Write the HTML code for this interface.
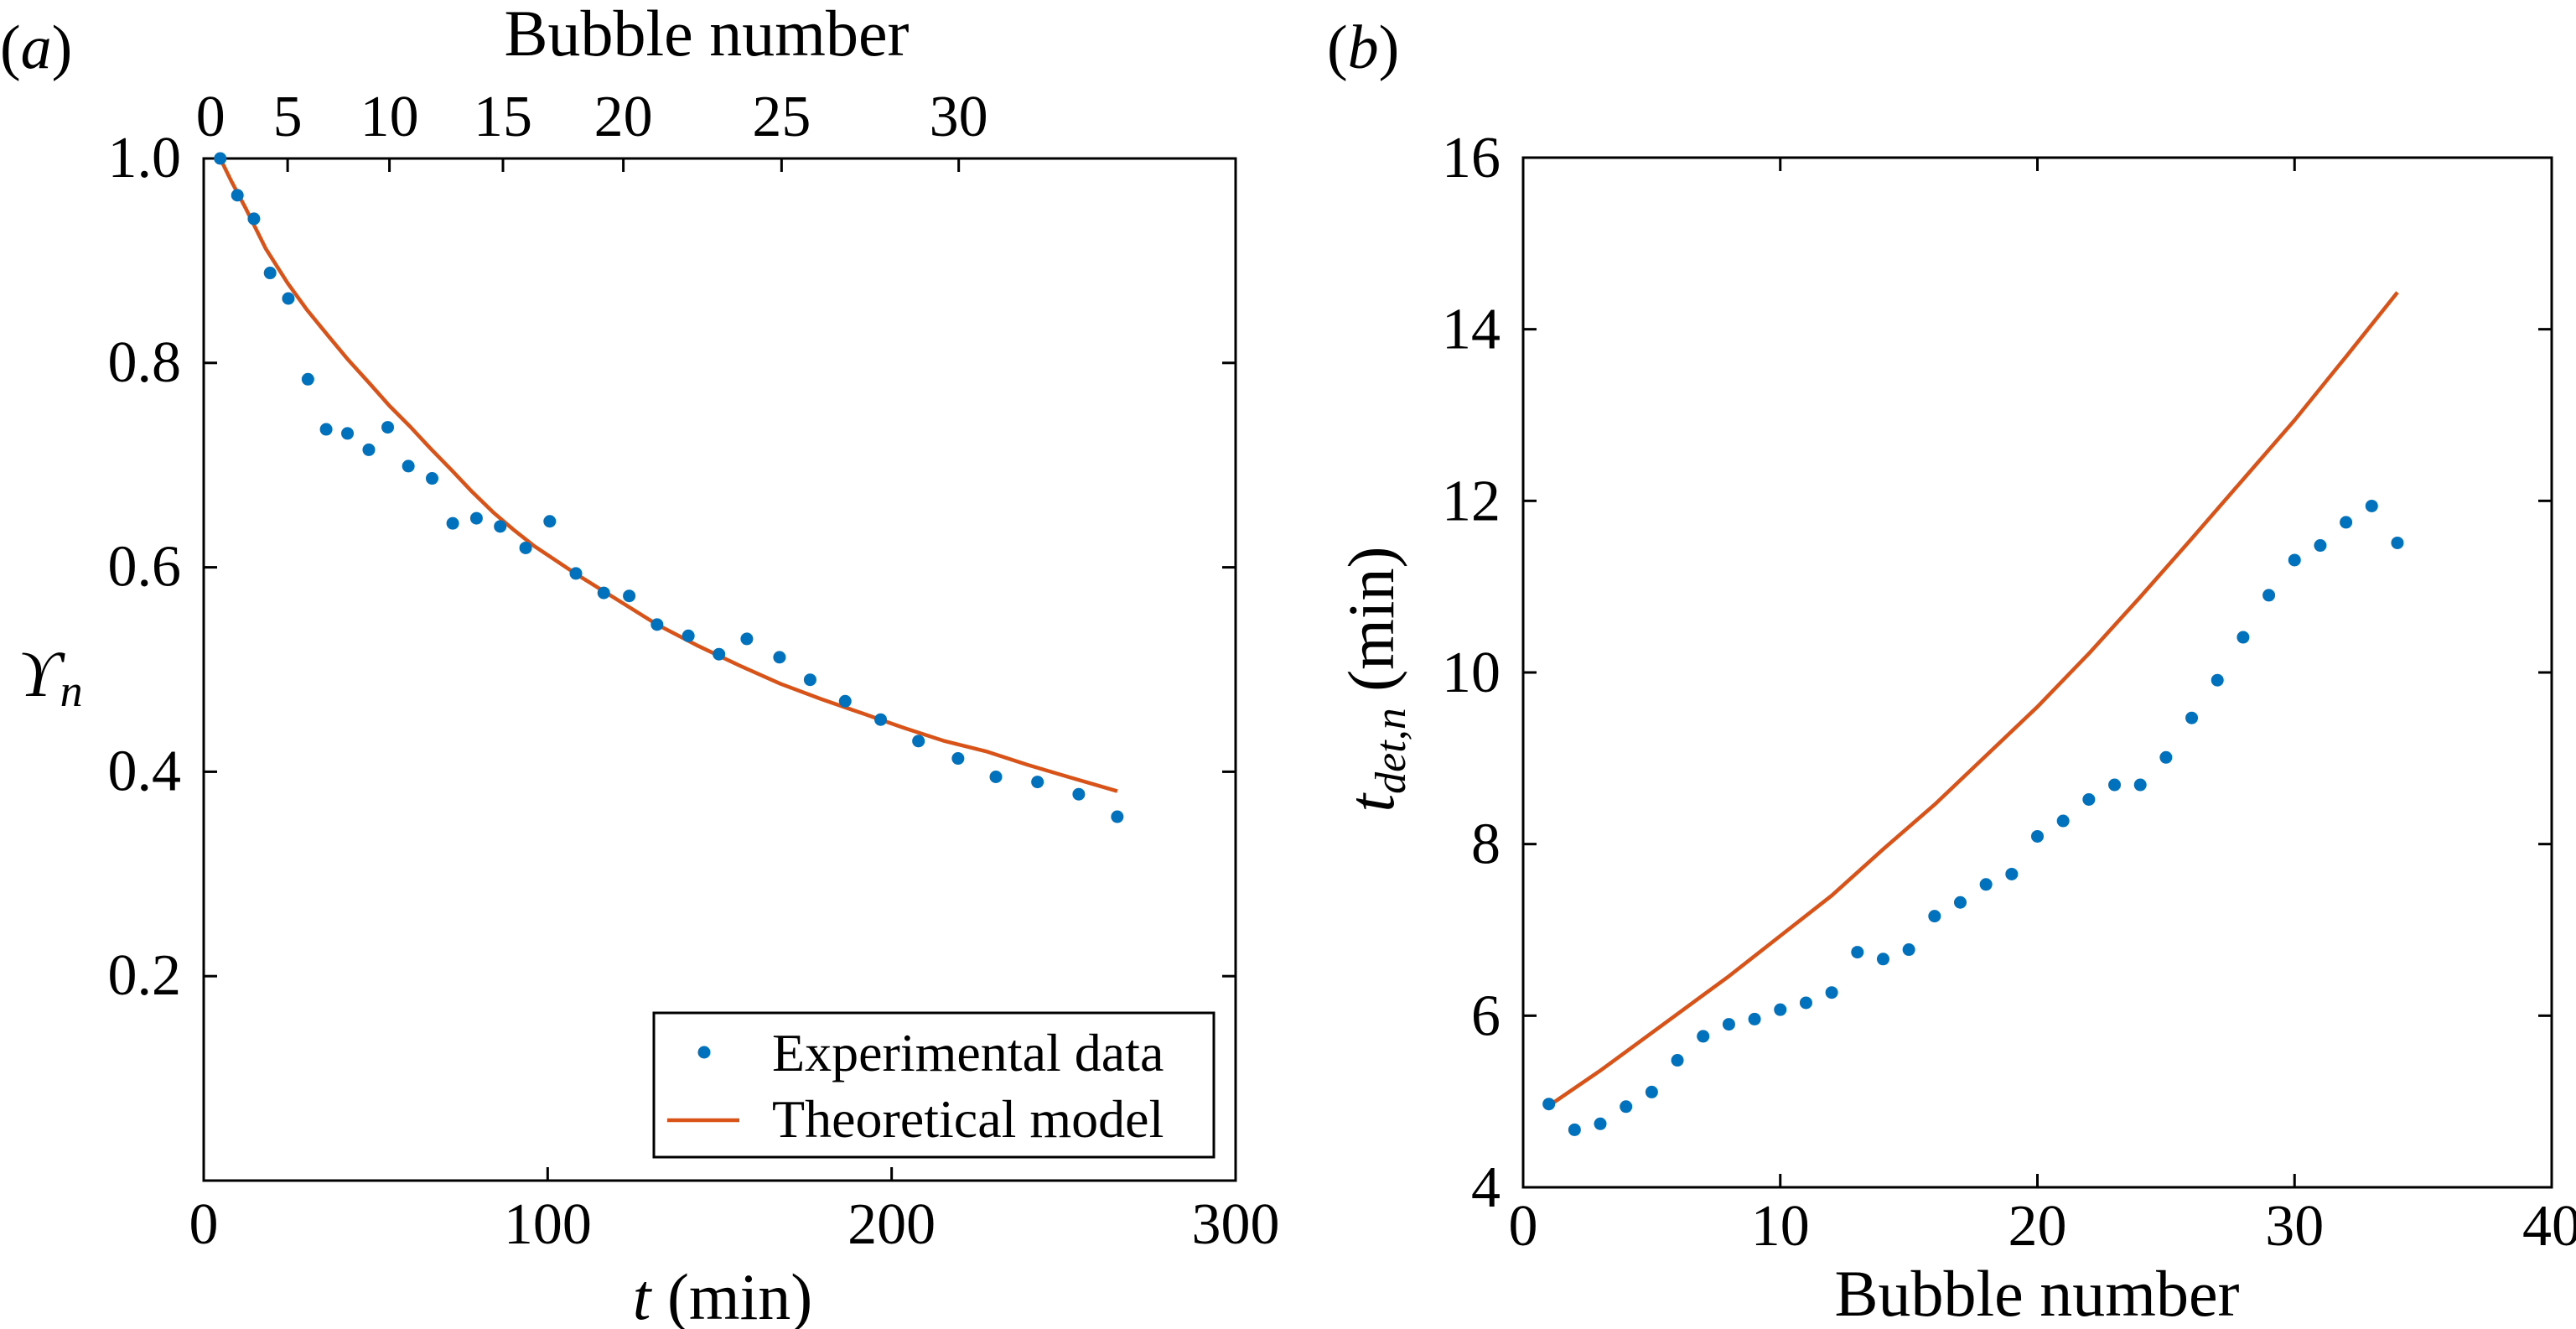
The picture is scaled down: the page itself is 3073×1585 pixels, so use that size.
<!DOCTYPE html>
<html><head><meta charset="utf-8">
<style>
html,body{margin:0;padding:0;background:#fff;}
svg{display:block;}
svg text{font-family:"Liberation Serif","DejaVu Serif","Times New Roman",serif;}
</style></head>
<body>
<svg id="fig" width="3073" height="1585" viewBox="0 0 3073 1585" xmlns="http://www.w3.org/2000/svg">
<g id="pa"></g>
<g id="pb"></g>
</svg>
<script>
// Panel (a) data
const aTimes = [4.8,9.8,14.6,19.3,24.6,30.3,35.6,41.8,48.0,53.5,59.5,66.4,72.4,79.3,86.2,93.6,100.6,108.2,116.3,123.7,131.8,140.9,149.8,157.9,167.4,176.3,186.5,196.8,207.8,219.3,230.3,242.4,254.4,265.6];
const aValues = [1.0,0.964,0.941,0.888,0.863,0.784,0.735,0.731,0.715,0.737,0.699,0.687,0.643,0.648,0.640,0.619,0.645,0.594,0.575,0.572,0.544,0.533,0.515,0.530,0.512,0.490,0.469,0.451,0.430,0.413,0.395,0.390,0.378,0.356];
const aModelT = [4.8,8,12.4,18,24.4,30,36.3,42,48.2,54,60.2,66,72.1,78,84.1,90,96,108,119.9,131.8,143.8,155.7,167.7,179.6,191.6,203.5,215.4,227.4,239.3,251.3,265.6];
const aModelY = [1.0,0.978,0.950,0.912,0.878,0.852,0.826,0.803,0.780,0.758,0.737,0.716,0.695,0.674,0.654,0.637,0.621,0.594,0.569,0.544,0.523,0.504,0.486,0.471,0.457,0.443,0.430,0.420,0.407,0.395,0.381];
const aXTicks = [0,100,200,300];
const aYTicks = [0.2,0.4,0.6,0.8,1.0];
const aYTickLabels = ["0.2","0.4","0.6","0.8","1.0"];
const aTopLabels = ["0","5","10","15","20","25","30"];
const aTopTimes = [2,24.4,54,87,122,168,219.5];
// Panel (b) data
const bBubbles = [1,2,3,4,5,6,7,8,9,10,11,12,13,14,15,16,17,18,19,20,21,22,23,24,25,26,27,28,29,30,31,32,33,34];
const bValues = [4.97,4.67,4.74,4.94,5.11,5.48,5.76,5.90,5.96,6.07,6.15,6.27,6.74,6.66,6.77,7.16,7.32,7.53,7.65,8.09,8.27,8.52,8.69,8.69,9.01,9.47,9.91,10.41,10.90,11.31,11.48,11.75,11.94,11.51];
const bModelX = [1,3,6,8,10,12,14,16,18,20,22,24,26,28,30,32,34];
const bModelY = [4.95,5.36,6.02,6.46,6.93,7.40,7.94,8.46,9.03,9.60,10.22,10.88,11.56,12.25,12.94,13.68,14.43];
const bXTicks = [0,10,20,30,40];
const bYTicks = [4,6,8,10,12,14,16];

const NS="http://www.w3.org/2000/svg";
const BLUE="#0072BD", ORANGE="#D95319";
const FF='"Liberation Serif","DejaVu Serif",serif';
function mk(parent,tag,attrs,text){const e=document.createElementNS(NS,tag);for(const k in attrs)e.setAttribute(k,attrs[k]);if(tag==='text')e.setAttribute('font-family',FF);if(text!==undefined)e.textContent=text;parent.appendChild(e);return e;}

// ---------- Panel A ----------
const pa=document.getElementById('pa');
const A={l:243,r:1474,t:189,b:1408};
const ax=v=>A.l+(v-0)/(300-0)*(A.r-A.l);
const ay=v=>A.b-(v-0)/(1-0)*(A.b-A.t);
let e;
e=mk(pa,'rect',{x:A.l,y:A.t,width:A.r-A.l,height:A.b-A.t,fill:'none',stroke:'#000','stroke-width':3});


aXTicks.forEach((v,i)=>{
  e=mk(pa,'line',{x1:ax(v),x2:ax(v),y1:A.b,y2:A.b-16,stroke:'#000','stroke-width':3});
  
  
  e=mk(pa,'text',{x:ax(v),y:1483,'font-size':70,'text-anchor':'middle'},String(v));
  
  
});
aYTicks.forEach((v,i)=>{
  e=mk(pa,'line',{x1:A.l,x2:A.l+16,y1:ay(v),y2:ay(v),stroke:'#000','stroke-width':3});
  
  
  e=mk(pa,'line',{x1:A.r,x2:A.r-16,y1:ay(v),y2:ay(v),stroke:'#000','stroke-width':3});
  
  
  e=mk(pa,'text',{x:216,y:ay(v)+22,'font-size':70,'text-anchor':'end'},aYTickLabels[i]);
  
  
});
aTopTimes.forEach((v,i)=>{
  if(i>0){
  e=mk(pa,'line',{x1:ax(v),x2:ax(v),y1:A.t,y2:A.t+16,stroke:'#000','stroke-width':3});
  
  }
  e=mk(pa,'text',{x:ax(v),y:162,'font-size':70,'text-anchor':'middle'},aTopLabels[i]);
  
  
});
e=mk(pa,'polyline',{points:aModelT.map((t,i)=>ax(t)+','+ay(aModelY[i])).join(' '),fill:'none',stroke:ORANGE,'stroke-width':4.5,'stroke-linejoin':'round'});


aTimes.forEach((t,i)=>{
  e=mk(pa,'circle',{cx:ax(t),cy:ay(aValues[i]),r:7.5,fill:BLUE});
  
  
});
// legend
e=mk(pa,'rect',{x:780,y:1208,width:668,height:172,fill:'#fff',stroke:'#000','stroke-width':3});


e=mk(pa,'circle',{cx:840,cy:1255,r:7.5,fill:BLUE});


e=mk(pa,'text',{x:921,y:1277,'font-size':64},'Experimental data');


e=mk(pa,'line',{x1:796,x2:882,y1:1336,y2:1336,stroke:ORANGE,'stroke-width':4.5});


e=mk(pa,'text',{x:921,y:1356,'font-size':64},'Theoretical model');


// labels
e=mk(pa,'text',{x:0,y:81,'font-size':74},'');
e.innerHTML='(<tspan font-style="italic">a</tspan>)';


e=mk(pa,'text',{x:843,y:66,'font-size':78,'text-anchor':'middle'},'Bubble number');


e=mk(pa,'text',{x:862,y:1573,'font-size':78,'text-anchor':'middle'},'');
e.innerHTML='<tspan font-style="italic">t</tspan> (min)';


e=mk(pa,'text',{x:22,y:830,'font-size':78,'font-style':'italic'},'');
e.innerHTML='ϒ<tspan font-size="54" dy="12">n</tspan>';



// ---------- Panel B ----------
const pb=document.getElementById('pb');
const B={l:1817,r:3044,t:188,b:1416};
const bx=v=>B.l+(v-0)/(40-0)*(B.r-B.l);
const by=v=>B.b-(v-4)/(16-4)*(B.b-B.t);
e=mk(pb,'rect',{x:B.l,y:B.t,width:B.r-B.l,height:B.b-B.t,fill:'none',stroke:'#000','stroke-width':3});


bXTicks.forEach(v=>{
  e=mk(pb,'line',{x1:bx(v),x2:bx(v),y1:B.b,y2:B.b-16,stroke:'#000','stroke-width':3});
  
  
  e=mk(pb,'line',{x1:bx(v),x2:bx(v),y1:B.t,y2:B.t+16,stroke:'#000','stroke-width':3});
  
  
  e=mk(pb,'text',{x:bx(v),y:1485,'font-size':70,'text-anchor':'middle'},String(v));
  
  
});
bYTicks.forEach(v=>{
  e=mk(pb,'line',{x1:B.l,x2:B.l+16,y1:by(v),y2:by(v),stroke:'#000','stroke-width':3});
  
  
  e=mk(pb,'line',{x1:B.r,x2:B.r-16,y1:by(v),y2:by(v),stroke:'#000','stroke-width':3});
  
  
  e=mk(pb,'text',{x:1790,y:by(v)+23,'font-size':70,'text-anchor':'end'},String(v));
  
  
});
e=mk(pb,'polyline',{points:bModelX.map((x,i)=>bx(x)+','+by(bModelY[i])).join(' '),fill:'none',stroke:ORANGE,'stroke-width':4.5,'stroke-linejoin':'round'});


bBubbles.forEach((n,i)=>{
  e=mk(pb,'circle',{cx:bx(n),cy:by(bValues[i]),r:7.5,fill:BLUE});
  
  
});
e=mk(pb,'text',{x:1583,y:81,'font-size':74},'');
e.innerHTML='(<tspan font-style="italic">b</tspan>)';


e=mk(pb,'text',{x:2430,y:1569,'font-size':78,'text-anchor':'middle'},'Bubble number');


e=mk(pb,'text',{x:0,y:0,'font-size':78,'text-anchor':'middle',transform:'translate(1662,810) rotate(-90)'},'');
e.innerHTML='<tspan font-style="italic">t</tspan><tspan font-style="italic" font-size="52" dy="14">det,n</tspan><tspan dy="-14"> (min)</tspan>';


</script>
</body></html>
